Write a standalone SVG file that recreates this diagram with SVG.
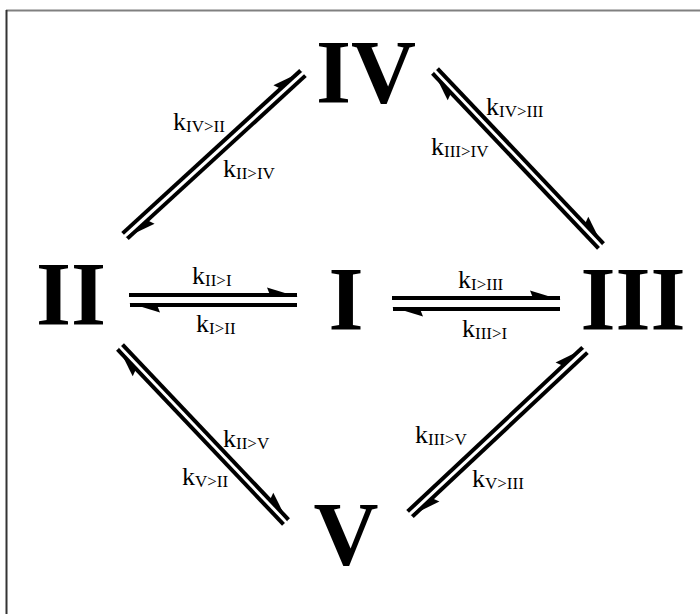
<svg xmlns="http://www.w3.org/2000/svg" width="700" height="614" viewBox="0 0 700 614">
<style>
.big{font-family:"Liberation Serif","Times New Roman",serif;font-weight:bold;font-size:90px;text-anchor:middle;fill:#000}
.k{font-family:"Liberation Serif","Times New Roman",serif;font-size:26px;fill:#000}
.s{font-size:17px}
.ln{stroke:#000;stroke-width:4;fill:none;marker-end:url(#h)}
</style>
<defs>
<marker id="h" markerUnits="userSpaceOnUse" orient="auto" refX="0" refY="0" markerWidth="1" markerHeight="1" overflow="visible">
<path d="M1,2 L-30,-7.5 L-27,0 Z" fill="#000"/>
</marker>
</defs>
<rect width="700" height="614" fill="#fff"/>
<line x1="6" y1="10.5" x2="700" y2="10.5" stroke="#808080" stroke-width="2"/>
<line x1="6.5" y1="10" x2="6.5" y2="614" stroke="#333" stroke-width="2"/>
<g id="node-IV"><text class="big" x="366" y="103">IV</text></g>
<g id="node-II"><text class="big" x="71" y="325">II</text></g>
<g id="node-I"><text class="big" x="346" y="330">I</text></g>
<g id="node-III"><text class="big" x="633" y="330">III</text></g>
<g id="node-V"><text class="big" x="346" y="565">V</text></g>
<g id="connectors">
<path class="ln" d="M122.6,233.4 L300.6,70.4"/>
<path class="ln" d="M305.4,75.6 L127.4,238.6"/>
<path class="ln" d="M437.5,68.6 L603.5,243.6"/>
<path class="ln" d="M598.5,248.4 L432.5,73.4"/>
<path class="ln" d="M122.5,344.6 L288.5,519.6"/>
<path class="ln" d="M283.5,524.4 L117.5,349.4"/>
<path class="ln" d="M407.6,511.4 L582.6,347.4"/>
<path class="ln" d="M587.4,352.6 L412.4,516.6"/>
<path class="ln" d="M129,295 L297,295"/>
<path class="ln" d="M297,305 L130,305"/>
<path class="ln" d="M392,298 L560,298"/>
<path class="ln" d="M560,309 L393,309"/>
</g>
<g id="labels">
<text class="k" x="173" y="130">k<tspan class="s" dy="2">IV&gt;II</tspan></text>
<text class="k" x="223" y="177">k<tspan class="s" dy="2">II&gt;IV</tspan></text>
<text class="k" x="486" y="115">k<tspan class="s" dy="2">IV&gt;III</tspan></text>
<text class="k" x="431" y="155">k<tspan class="s" dy="2">III&gt;IV</tspan></text>
<text class="k" x="192" y="284">k<tspan class="s" dy="2">II&gt;I</tspan></text>
<text class="k" x="196" y="332">k<tspan class="s" dy="2">I&gt;II</tspan></text>
<text class="k" x="458" y="288">k<tspan class="s" dy="2">I&gt;III</tspan></text>
<text class="k" x="462" y="337">k<tspan class="s" dy="2">III&gt;I</tspan></text>
<text class="k" x="223" y="447">k<tspan class="s" dy="2">II&gt;V</tspan></text>
<text class="k" x="182" y="485">k<tspan class="s" dy="2">V&gt;II</tspan></text>
<text class="k" x="415" y="443">k<tspan class="s" dy="2">III&gt;V</tspan></text>
<text class="k" x="472" y="487">k<tspan class="s" dy="2">V&gt;III</tspan></text>
</g>
</svg>
